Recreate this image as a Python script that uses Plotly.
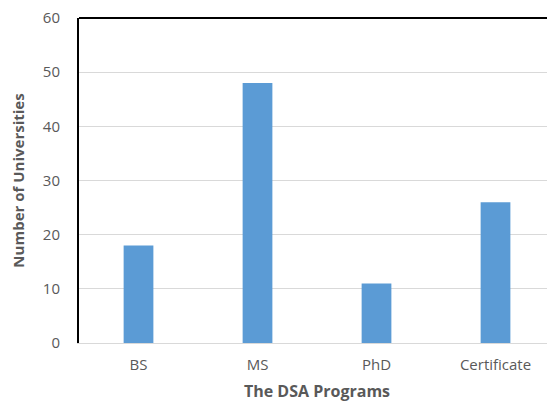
import plotly.graph_objects as go

programs = ["BS", "MS", "PhD", "Certificate"]
universities = [18, 48, 11, 26]
y_ticks = [0, 10, 20, 30, 40, 50, 60]

fig = go.Figure()
fig.add_trace(go.Bar(x=programs, y=universities, marker_color="#5B9BD5",
                     marker_line_width=0, width=0.25))

font_fam = "Open Sans, Liberation Sans, sans-serif"
fig.update_layout(
    width=547, height=397,
    margin=dict(l=71, r=0, t=10, b=62, autoexpand=False),
    paper_bgcolor="white", plot_bgcolor="white",
    showlegend=False,
    font=dict(family=font_fam, color="#595959", size=14),
)
fig.update_xaxes(
    automargin=False,
    showline=True, linecolor="#D9D9D9", linewidth=1,
    showgrid=False, ticks="", tickfont=dict(size=15, color="#595959"),
    ticklabelstandoff=8,
    title=dict(text="<b>The DSA Programs</b>", font=dict(size=16, color="#595959"), standoff=12),
)
fig.update_yaxes(
    automargin=False,
    range=[0, 60], tickvals=y_ticks,
    showline=True, linecolor="black", linewidth=2,
    showgrid=True, gridcolor="#D9D9D9", gridwidth=1,
    zeroline=False, ticks="", ticklabelstandoff=14,
    ticklabeloverflow="allow",
    tickfont=dict(size=15, color="#595959"),
    title=dict(text="<b>Number of Universities</b>", font=dict(size=15, color="#595959"), standoff=15),
)
fig.add_shape(type="line", xref="paper", yref="paper", x0=0, x1=1, y0=1, y1=1,
              line=dict(color="black", width=2))
fig.write_html("out.html")
